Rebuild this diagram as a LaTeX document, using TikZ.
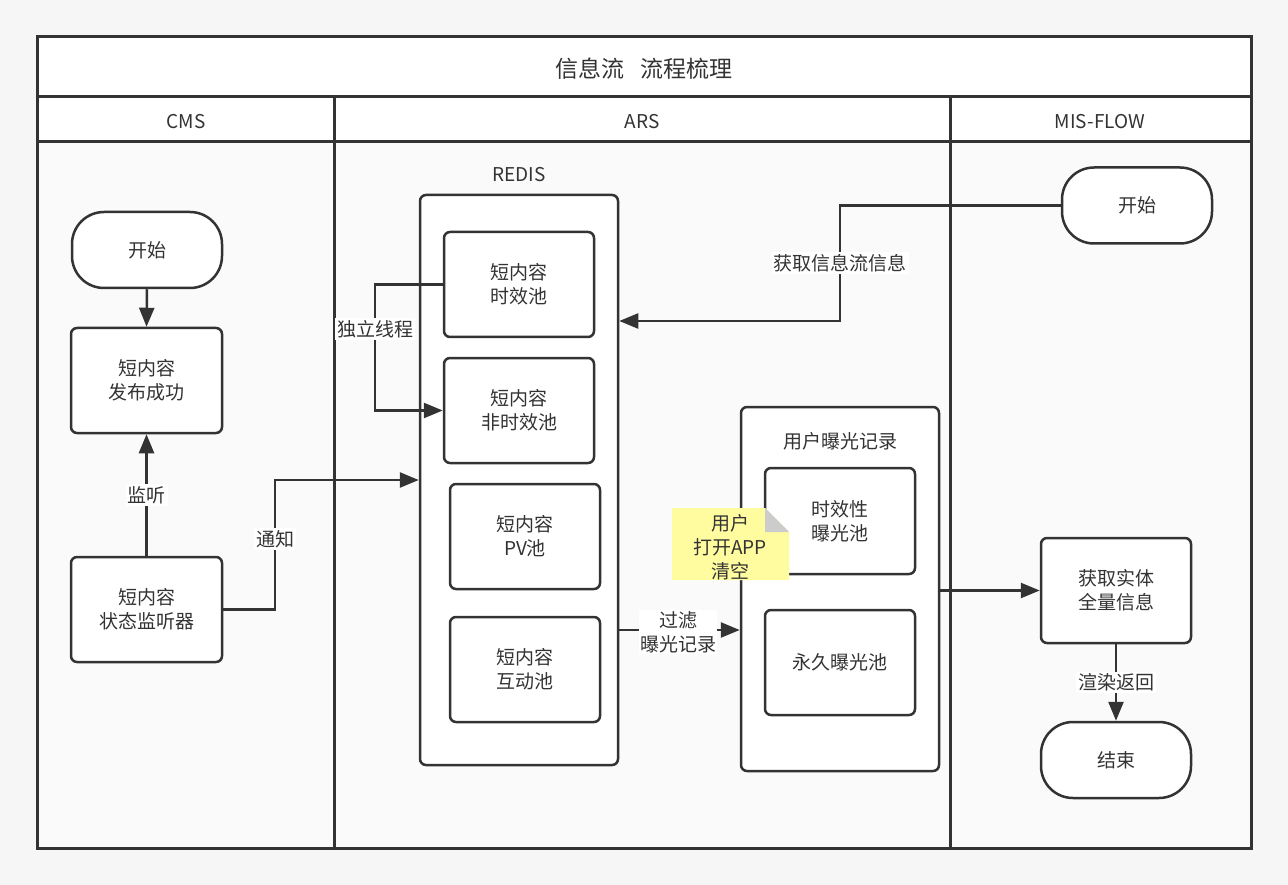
\documentclass[tikz,border=0pt]{standalone}
\usepackage{fontspec}
\setmainfont{Noto Sans CJK SC}
\usetikzlibrary{arrows.meta}
\definecolor{lc}{HTML}{333333}
\definecolor{pagebg}{HTML}{F6F6F6}
\definecolor{lanebg}{HTML}{FAFAFA}
\definecolor{noteyel}{HTML}{FFFCA0}
\definecolor{foldgray}{HTML}{CCCCCC}
\newcommand{\fsz}{\fontsize{19}{24}\selectfont}
\tikzset{
  box/.style={draw=lc, line width=2.5pt, fill=white, rounded corners=6pt,
    minimum width=150pt, minimum height=105pt, align=center, inner sep=0pt,
    font=\fsz, text=lc},
  term/.style={box, rounded corners=32pt, minimum height=76pt},
  cont/.style={draw=lc, line width=2.5pt, fill=white, rounded corners=6pt, inner sep=0pt},
  conn/.style={draw=lc, line width=2.5pt, -{Triangle[length=19pt,width=15pt]}},
  lbl/.style={fill=white, inner sep=2pt, font=\fsz, text=lc, align=center},
  hdr/.style={font=\fsz, text=lc},
  frame/.style={draw=lc, line width=3pt}
}
\begin{document}
\begin{tikzpicture}[x=1pt, y=-1pt]
\useasboundingbox[fill=pagebg] (0,0) rectangle (1288,885);
% lanes
\fill[white] (37,37) rectangle (1251,142);
\fill[lanebg] (37,142) rectangle (1251,848);
\draw[frame] (37,37) rectangle (1251,848);
\draw[frame] (37,97) -- (1251,97);
\draw[frame] (37,142) -- (1251,142);
\draw[frame] (334,97) -- (334,848);
\draw[frame] (950,97) -- (950,848);
\node[hdr, font=\fontsize{23}{28}\selectfont] (title) at (644,69) {信息流\hspace{16pt}流程梳理};
\node[hdr] (hcms) at (186,122) {CMS};
\node[hdr] (hars) at (642,122) {ARS};
\node[hdr] (hmis) at (1100,122) {MIS-FLOW};

% CMS lane
\node[term] (cstart) at (147,250) {开始};
\node[box, minimum width=151pt] (cpub) at (146.5,380.5) {短内容\\发布成功};
\node[box, minimum width=151pt] (cmon) at (146.5,609.5) {短内容\\状态监听器};

% ARS lane
\node[cont, minimum width=198pt, minimum height=570pt] (redis) at (519,480) {};
\node[hdr] (redislbl) at (519,175) {REDIS};
\node[box] (p1) at (519,284.5) {短内容\\时效池};
\node[box] (p2) at (519,410.5) {短内容\\非时效池};
\node[box] (p3) at (525,536.5) {短内容\\PV池};
\node[box] (p4) at (525,669.5) {短内容\\互动池};

\node[cont, minimum width=198pt, minimum height=364pt] (exp) at (840,589) {};
\node[hdr] (explbl) at (840,441) {用户曝光记录};
\node[box, minimum height=106pt] (e1) at (840,521) {时效性\\曝光池};
\node[box] (e2) at (840,662.5) {永久曝光池};

% note
\fill[noteyel] (672,508) -- (765,508) -- (789,532) -- (789,580) -- (672,580) -- cycle;
\fill[foldgray] (765,508) -- (789,532) -- (765,532) -- cycle;
\node[hdr, align=center] (note) at (730,547) {用户\\打开APP\\清空};

% MIS-FLOW lane
\node[term] (mstart) at (1137,205.5) {开始};
\node[box] (mget) at (1116,590.5) {获取实体\\全量信息};
\node[term] (mend) at (1116,760) {结束};

% connectors
\draw[conn] (cstart.south) -- (cpub.north);
\draw[conn] (cmon.north) -- node[lbl] (l1) {监听} (cpub.south);
\coordinate (tz) at (275,539);
\draw[conn] (cmon.east) -| (tz) |- (redis.west);
\node[lbl] (l2) at (tz) {通知};
\coordinate (dl) at (375,329);
\draw[conn] (p1.west) -| (dl) |- (p2.west);
\node[lbl] (l3) at (dl) {独立线程};
\coordinate (hq) at (840,321);
\draw[conn] (mstart.west) -| (hq) -- (hq -| redis.east);
\node[lbl] (l4) at (840,263) {获取信息流信息};
\coordinate (gl) at (678,630);
\draw[conn] (gl -| redis.east) -- (gl -| exp.west);
\node[lbl, inner sep=1pt] (l5) at (678,632) {过滤\\曝光记录};
\draw[conn] (exp.east |- mget.west) -- (mget.west);
\draw[conn] (mget.south) -- node[lbl] (l6) {渲染返回} (mend.north);
\end{tikzpicture}
\end{document}
